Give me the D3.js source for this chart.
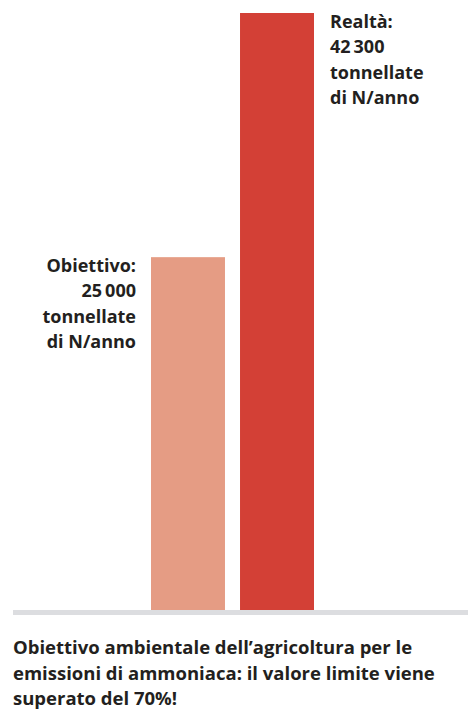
<!DOCTYPE html>
<html lang="it">
<head>
<meta charset="UTF-8">
<title>Emissioni di ammoniaca</title>
<style>
  body { margin: 0; background: #fff; }
  svg text { font-family: "Open Sans", sans-serif; font-weight: 700; fill: #231f20; }
  .lab { font-size: 18px; }
  .cap { font-size: 18.5px; }
</style>
</head>
<body>
<div id="chart"></div>
<script src="https://cdnjs.cloudflare.com/ajax/libs/d3/7.8.5/d3.min.js"></script>
<script>
// data
var categories = ["Obiettivo", "Realtà"];
var values = [25000, 42300];
var labels = [
  ["Obiettivo:", "25\u2009000", "tonnellate", "di N/anno"],
  ["Realtà:", "42\u2009300", "tonnellate", "di N/anno"]
];
var colors = ["#e59c84", "#d34036"];
var caption = [
  "Obiettivo ambientale dell\u2019agricoltura per le",
  "emissioni di ammoniaca: il valore limite viene",
  "superato del 70%!"
];

var W = 468, H = 710;
var baseY = 610;

var svg = d3.select("#chart").append("svg")
  .attr("width", W)
  .attr("height", H);

var x = d3.scaleBand()
  .domain(categories)
  .range([151, 314])
  .paddingInner(0.169)
  .paddingOuter(0);

var y = d3.scaleLinear()
  .domain([0, 42300])
  .range([baseY, 13]);

// bars
svg.selectAll(".bar")
  .data(values)
  .enter().append("rect")
  .attr("class", "bar")
  .attr("x", function (d, i) { return x(categories[i]); })
  .attr("y", function (d) { return y(d); })
  .attr("width", x.bandwidth())
  .attr("height", function (d) { return baseY - y(d); })
  .style("fill", function (d, i) { return colors[i]; });

// baseline
svg.append("rect")
  .attr("x", 13)
  .attr("y", baseY)
  .attr("width", W - 13)
  .attr("height", 5)
  .style("fill", "#dcdde0");

// value labels
svg.selectAll(".lab")
  .data(values)
  .enter().append("text")
  .attr("class", "lab")
  .attr("text-anchor", function (d, i) { return i === 0 ? "end" : "start"; })
  .attr("transform", function (d, i) {
    var lx = i === 0 ? x(categories[i]) - 15 : x(categories[i]) + x.bandwidth() + 16;
    return "translate(" + lx + "," + (y(d) + 14.5) + ")";
  })
  .each(function (d, i) {
    d3.select(this).selectAll("tspan")
      .data(labels[i])
      .enter().append("tspan")
      .attr("x", 0)
      .attr("y", function (t, j) { return j * 25.5; })
      .text(function (t) { return t; });
  });

// caption
svg.append("text")
  .attr("class", "cap")
  .selectAll("tspan")
  .data(caption)
  .enter().append("tspan")
  .attr("x", 13)
  .attr("y", function (d, i) { return 654 + i * 25.5; })
  .text(function (d) { return d; });
</script>
</body>
</html>
